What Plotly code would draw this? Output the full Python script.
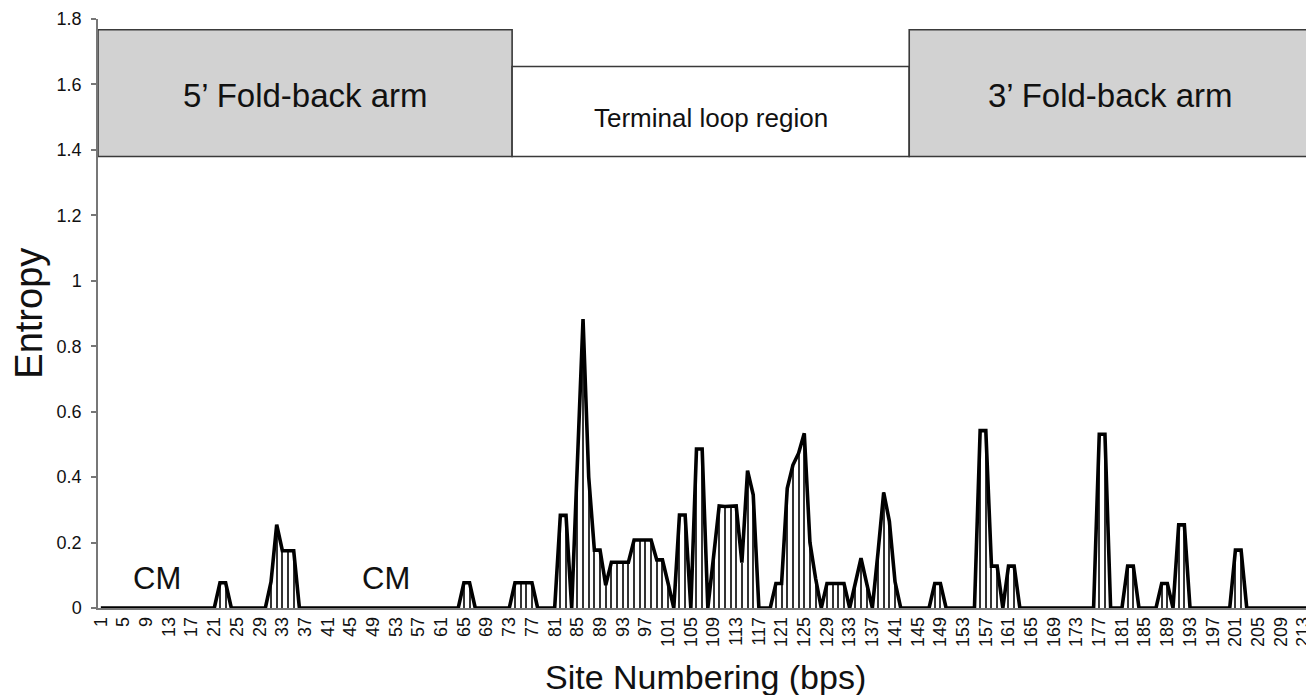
import plotly.graph_objects as go

# ---- data ----
sites = list(range(1, 215))
entropy = (
    [0] * 21 +                                   # 1-21
    [0.077, 0.077] +                             # 22-23
    [0] * 7 +                                    # 24-30
    [0.08, 0.255, 0.175, 0.175, 0.175] +         # 31-35
    [0] * 29 +                                   # 36-64
    [0.077, 0.077] +                             # 65-66
    [0] * 7 +                                    # 67-73
    [0.077, 0.077, 0.077, 0.077] +               # 74-77
    [0] * 4 +                                    # 78-81
    [0.283, 0.283, 0, 0.44, 0.883, 0.40, 0.177, 0.177, 0.07] +   # 82-90
    [0.14, 0.14, 0.14, 0.14] +                   # 91-94
    [0.208, 0.208, 0.208, 0.208] +               # 95-98
    [0.147, 0.147, 0.075, 0] +                   # 99-102
    [0.284, 0.284, 0, 0.486, 0.486, 0, 0.155] +  # 103-109
    [0.312, 0.31, 0.31, 0.312, 0.139, 0.42, 0.346] +  # 110-116
    [0, 0, 0] +                                  # 117-119
    [0.075, 0.075, 0.366, 0.437, 0.473, 0.534, 0.2, 0.09, 0] +  # 120-128
    [0.075, 0.075, 0.075, 0.075, 0] +            # 129-133
    [0.075, 0.152, 0.075, 0, 0.17, 0.353, 0.265, 0.08] +  # 134-141
    [0] * 6 +                                    # 142-147
    [0.075, 0.075] +                             # 148-149
    [0] * 6 +                                    # 150-155
    [0.542, 0.542, 0.128, 0.128, 0, 0.128, 0.128] +  # 156-162
    [0] * 14 +                                   # 163-176
    [0.531, 0.531] +                             # 177-178
    [0, 0, 0] +                                  # 179-181
    [0.128, 0.128] +                             # 182-183
    [0] * 4 +                                    # 184-187
    [0.075, 0.075, 0, 0.254, 0.254] +            # 188-192
    [0] * 8 +                                    # 193-200
    [0.177, 0.177] +                             # 201-202
    [0] * 12                                     # 203-214
)
tick_sites = list(range(1, 214, 4))
tick_labels = [str(s) for s in tick_sites]

region_names = ["5’ Fold-back arm", "Terminal loop region", "3’ Fold-back arm"]
region_start = [1, 74, 144]
region_end = [73, 143, 214]
region_top = [1.767, 1.655, 1.767]
region_bottom = [1.38, 1.38, 1.38]
region_fill = ["#d2d2d2", "white", "#d2d2d2"]
region_font = [33, 26, 33]
region_label_y = [1.565, 1.497, 1.565]

cm_sites = [10.9, 51.2]
cm_y = [0.09, 0.09]

FONT = "Liberation Sans, Arial, sans-serif"

fig = go.Figure()

# hatching: thin vertical line at every site
fig.add_trace(go.Bar(
    x=sites, y=entropy, width=0.18,
    marker=dict(color="#333333", line=dict(width=0)),
    hoverinfo="skip", showlegend=False,
))
# outline
fig.add_trace(go.Scatter(
    x=sites, y=entropy, mode="lines",
    line=dict(color="black", width=3.6),
    cliponaxis=False, showlegend=False,
))

shapes = []
annotations = []
for name, s, e, top, bot, fill, fs, ly in zip(region_names, region_start, region_end,
                                              region_top, region_bottom, region_fill,
                                              region_font, region_label_y):
    shapes.append(dict(type="rect", xref="x", yref="y",
                       x0=s - 0.5, x1=e + 0.5, y0=bot, y1=top,
                       fillcolor=fill, line=dict(color="#3a3a3a", width=1.6),
                       layer="above"))
    annotations.append(dict(x=(s + e) / 2, y=ly, xref="x", yref="y",
                            text=name, showarrow=False,
                            font=dict(family=FONT, size=fs, color="#111111")))

for xs, ys in zip(cm_sites, cm_y):
    annotations.append(dict(x=xs, y=ys, xref="x", yref="y", text="CM",
                            showarrow=False,
                            font=dict(family=FONT, size=31, color="#111111")))

# axis titles
annotations.append(dict(x=-0.0575, y=0.5, xref="paper", yref="paper",
                        text="Entropy", textangle=-90, showarrow=False,
                        xanchor="center", yanchor="middle",
                        font=dict(family=FONT, size=38, color="#111111")))
annotations.append(dict(x=0.5, y=0.0, xref="paper", yref="paper",
                        text="Site Numbering (bps)", showarrow=False,
                        xanchor="center", yanchor="middle", yshift=-69,
                        font=dict(family=FONT, size=34, color="#111111")))

# the page body adds an 8px offset, so the figure is sized/margined to compensate
fig.update_layout(
    width=1306, height=687,
    margin=dict(l=90, r=2, t=11, b=87, autoexpand=False),
    paper_bgcolor="white", plot_bgcolor="white",
    bargap=0, shapes=shapes, annotations=annotations,
    font=dict(family=FONT, color="#111111"),
    xaxis=dict(
        range=[0.5, 214.5], tickmode="array", tickvals=tick_sites,
        ticktext=tick_labels, tickangle=-90, showgrid=False, zeroline=False,
        showline=True, linecolor="#777777", linewidth=1.5, ticks="",
        automargin=False,
        tickfont=dict(family=FONT, size=18, color="#111111"),
    ),
    yaxis=dict(
        range=[0, 1.8], tickmode="array",
        tickvals=[0, 0.2, 0.4, 0.6, 0.8, 1.0, 1.2, 1.4, 1.6, 1.8],
        ticktext=["0", "0.2", "0.4", "0.6", "0.8", "1", "1.2", "1.4", "1.6", "1.8"],
        showgrid=False, zeroline=False, showline=True, linecolor="#777777",
        linewidth=1.5, ticks="outside", ticklen=5, tickcolor="#777777",
        tickwidth=1.5, ticklabelstandoff=6, automargin=False,
        tickfont=dict(family=FONT, size=18, color="#111111"),
    ),
)

fig.write_html("out.html")
